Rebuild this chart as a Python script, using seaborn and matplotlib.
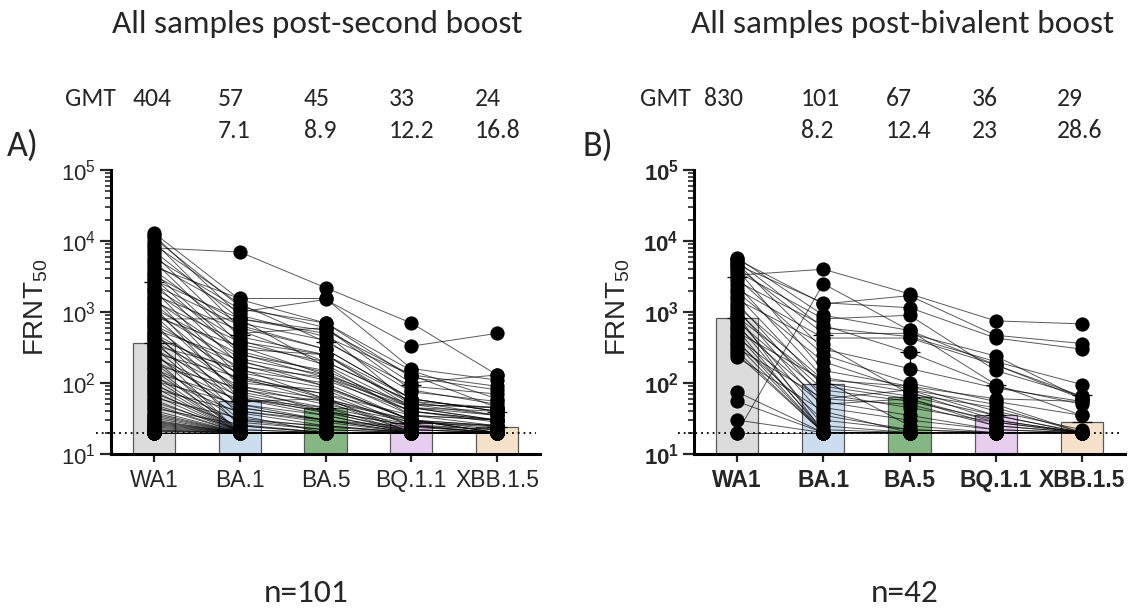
import numpy as np
import pandas as pd
import matplotlib
matplotlib.use("Agg")
import matplotlib.pyplot as plt
import seaborn as sns
from matplotlib.ticker import LogLocator, NullFormatter

W, H = 1128, 611

# ── categories / colours ────────────────────────────────────────────────────
variants = ["WA1", "BA.1", "BA.5", "BQ.1.1", "XBB.1.5"]
bar_colors = ["#dcdcdc", "#c6dcf6", "#7dbf7d", "#eac8f6", "#fde2c4"]

# header numbers (GMT row, fold-drop row)
gmt_label_a = ["404", "57", "45", "33", "24"]
fold_label_a = ["", "7.1", "8.9", "12.2", "16.8"]
gmt_label_b = ["830", "101", "67", "36", "29"]
fold_label_b = ["", "8.2", "12.4", "23", "28.6"]

# bar heights (geometric mean) and upper geometric SD
gmt_bar_a = [365, 56, 44, 27, 24]
gsd_top_a = [2650, 480, 380, 95, 39]
gmt_bar_b = [820, 98, 64, 36, 28]
gsd_top_b = [3100, 480, 276, 94, 68]

# ── panel A: post-second boost, n=101 ───────────────────────────────────────
wa1_a = [13000, 12000, 11000, 9800, 8900, 8000, 7200, 6500, 5800, 5200,
         4700, 4300, 3900, 3600, 3300, 3000, 2800, 2600, 2400, 2200,
         2050, 1900, 1750, 1600, 1500, 1400, 1300, 1200, 1120, 1050,
         980, 920, 860, 800, 750, 700, 650, 610, 570, 530,
         500, 470, 440, 410, 385, 360, 340, 320, 300, 280,
         265, 250, 235, 220, 205, 190, 180, 170, 160, 150,
         140, 130, 122, 115, 108, 100, 94, 88, 82, 77,
         72, 67, 62, 58, 54, 50, 47, 44, 41, 38,
         36, 34, 32, 30, 29, 28, 27, 26, 25, 24,
         23, 22, 21.5, 21, 20.5, 20, 20, 20, 20, 20, 20]
ba1_a = [1500, 900, 1200, 600, 1300, 7000, 800, 450, 1100, 350,
         1000, 1550, 500, 280, 700, 260, 800, 180, 650, 400,
         120, 300, 550, 90, 220, 380, 150, 60, 250, 100,
         200, 70, 330, 800, 130, 45, 170, 80, 210, 35,
         110, 60, 140, 25, 90, 50, 160, 30, 75, 20,
         120, 40, 65, 20, 55, 28, 85, 20, 45, 22,
         60, 20, 38, 20, 50, 20, 30, 20, 40, 20,
         25, 20, 32, 20, 22, 20, 20, 26, 20, 20,
         20, 20, 20, 20, 20, 20, 20, 20, 20, 20,
         20, 20, 20, 20, 20, 20, 20, 20, 20, 20, 20]
ba5_a = [700, 450, 600, 300, 380, 2200, 500, 250, 700, 200,
         1500, 1550, 600, 140, 400, 120, 550, 90, 300, 180,
         70, 250, 200, 60, 130, 250, 100, 45, 150, 80,
         110, 40, 130, 170, 60, 30, 120, 55, 90, 20,
         70, 40, 85, 20, 50, 35, 60, 25, 45, 20,
         55, 30, 38, 20, 60, 22, 40, 20, 30, 20,
         35, 20, 25, 20, 30, 20, 22, 20, 28, 20,
         20, 20, 24, 20, 20, 20, 20, 20, 20, 20,
         20, 20, 20, 20, 20, 20, 20, 20, 20, 20,
         20, 20, 20, 20, 20, 20, 20, 20, 20, 20, 20]
bq_a = [150, 130, 100, 60, 90, 700, 50, 45, 120, 55,
        330, 160, 80, 40, 75, 35, 130, 30, 60, 45,
        25, 50, 55, 20, 40, 60, 30, 20, 45, 25,
        40, 20, 50, 35, 22, 20, 45, 20, 30, 20,
        35, 25, 30, 20, 28, 20, 30, 20, 26, 20,
        30, 20, 22, 20, 28, 20, 25, 20, 22, 20,
        20, 20, 20, 20, 24, 20, 20, 20, 20, 20,
        20, 20, 20, 20, 20, 20, 20, 20, 20, 20,
        20, 20, 20, 20, 20, 20, 20, 20, 20, 20,
        20, 20, 20, 20, 20, 20, 20, 20, 20, 20, 20]
xbb_a = [60, 45, 130, 40, 70, 130, 35, 30, 80, 45,
         500, 110, 50, 30, 55, 25, 90, 20, 40, 30,
         20, 45, 35, 20, 30, 40, 20, 20, 35, 22,
         28, 20, 45, 30, 20, 20, 40, 20, 25, 20,
         30, 20, 22, 20, 25, 20, 20, 20, 22, 20,
         25, 20, 20, 20, 24, 20, 20, 20, 20, 20,
         20, 20, 20, 20, 20, 20, 20, 20, 20, 20,
         20, 20, 20, 20, 20, 20, 20, 20, 20, 20,
         20, 20, 20, 20, 20, 20, 20, 20, 20, 20,
         20, 20, 20, 20, 20, 20, 20, 20, 20, 20, 20]

# ── panel B: post-bivalent boost, n=42 ──────────────────────────────────────
wa1_b = [5800, 5500, 5200, 4900, 4600, 4300, 4000, 3700, 3300, 3000,
         2700, 2400, 2100, 1900, 1700, 1500, 1350, 1200, 1100, 1000,
         920, 850, 800, 740, 680, 620, 570, 520, 480, 440,
         400, 370, 340, 310, 280, 255, 230, 75, 55, 30,
         20, 20]
ba1_b = [900, 1300, 600, 300, 1350, 500, 150, 800, 4000, 250,
         650, 120, 430, 200, 90, 350, 60, 110, 45, 80,
         20, 100, 35, 70, 25, 55, 20, 110, 22, 50,
         20, 30, 20, 60, 20, 20, 40, 20, 20, 20,
         2500, 20]
ba5_b = [550, 1700, 450, 160, 1150, 500, 90, 900, 1800, 100,
         270, 75, 430, 80, 60, 70, 50, 90, 30, 55,
         20, 65, 22, 45, 20, 35, 20, 25, 20, 60,
         20, 22, 20, 80, 20, 20, 20, 20, 20, 20,
         550, 20]
bq_b = [180, 470, 200, 85, 430, 240, 40, 150, 750, 55,
        90, 30, 180, 35, 28, 45, 25, 60, 22, 30,
        20, 35, 20, 28, 20, 22, 20, 20, 20, 25,
        20, 20, 20, 50, 20, 20, 20, 20, 20, 20,
        95, 20]
xbb_b = [60, 360, 95, 55, 300, 60, 22, 65, 680, 35,
         50, 20, 65, 20, 20, 20, 20, 55, 20, 20,
         20, 20, 20, 20, 20, 20, 20, 20, 20, 20,
         20, 20, 20, 20, 20, 20, 20, 20, 20, 20,
         35, 20]

panel_a = [wa1_a, ba1_a, ba5_a, bq_a, xbb_a]
panel_b = [wa1_b, ba1_b, ba5_b, bq_b, xbb_b]

sns.set_theme(style="ticks")
plt.rcParams.update({
    "font.family": ["Liberation Sans", "DejaVu Sans"],
    "mathtext.fontset": "custom",
    "mathtext.rm": "Liberation Sans",
    "mathtext.it": "Liberation Sans:italic",
    "mathtext.bf": "Liberation Sans:bold",
    "axes.spines.top": False,
    "axes.spines.right": False,
    "figure.facecolor": "white",
    "axes.facecolor": "white",
})
HEAD = ["Carlito", "Lato", "DejaVu Sans"]


def px(x, y):
    return x / W, 1 - y / H


def long_frame(cols):
    rows = []
    for pos, vals in enumerate(cols):
        for s, v in enumerate(vals):
            rows.append((s, pos, v))
    return pd.DataFrame(rows, columns=["sample", "pos", "frnt"])


def draw_panel(ax, cols, gmt_bar, gsd_top, bold):
    df = long_frame(cols)
    ax.set_yscale("log")
    sns.barplot(x=variants, y=gmt_bar, hue=variants, palette=bar_colors,
                legend=False, width=0.49, edgecolor="#5a5a5a", linewidth=0.9,
                ax=ax, zorder=1)
    ax.errorbar(range(5), gmt_bar, yerr=[[0] * 5, np.array(gsd_top) - np.array(gmt_bar)],
                fmt="none", ecolor="black", elinewidth=0.9, capsize=7, capthick=0.9,
                zorder=2)
    ax.plot([-0.68, 4.45], [20, 20], color="black", lw=1.3, ls=(0, (1, 2.2)),
            clip_on=False, zorder=2.5)
    sns.lineplot(data=df, x="pos", y="frnt", units="sample", estimator=None,
                 color="black", lw=0.7, alpha=0.65, ax=ax, zorder=3)
    sns.scatterplot(data=df, x="pos", y="frnt", color="black", s=105,
                    edgecolor="black", linewidth=0, ax=ax, zorder=5, clip_on=False)

    ax.set_xlim(-0.5, 4.5)
    ax.set_ylim(10, 1e5)
    ax.set_xlabel("")
    ax.set_ylabel("")
    wt = "bold" if bold else "normal"
    ax.set_xticks(range(5))
    ax.set_xticklabels(variants, fontsize=16.5, fontweight=wt)
    ax.set_yticks([10, 1e2, 1e3, 1e4, 1e5])
    if bold:
        labs = [r"$\mathbf{10^{%d}}$" % k for k in range(1, 6)]
    else:
        labs = [r"$\mathregular{10^{%d}}$" % k for k in range(1, 6)]
    ax.set_yticklabels(labs, fontsize=16)
    ax.yaxis.set_minor_locator(LogLocator(base=10, subs=np.arange(2, 10)))
    ax.yaxis.set_minor_formatter(NullFormatter())
    ax.tick_params(axis="y", which="major", length=8, width=1.6, pad=3)
    ax.tick_params(axis="y", which="minor", length=4, width=1.2)
    ax.tick_params(axis="x", which="major", length=6, width=1.6, pad=5)
    for sp in ("left", "bottom"):
        ax.spines[sp].set_linewidth(2.2)
        ax.spines[sp].set_color("black")


fig = plt.figure(figsize=(W / 100, H / 100), dpi=100)
ax_a = fig.add_axes([111 / W, 1 - 454 / H, 429 / W, 284 / H])
ax_b = fig.add_axes([694 / W, 1 - 454 / H, 431 / W, 284 / H])
draw_panel(ax_a, panel_a, gmt_bar_a, gsd_top_a, bold=False)
draw_panel(ax_b, panel_b, gmt_bar_b, gsd_top_b, bold=True)

# ── header texts ────────────────────────────────────────────────────────────
fig.text(*px(317, 24), "All samples post-second boost", family=HEAD, fontsize=24,
         ha="center", va="center")
fig.text(*px(903, 24), "All samples post-bivalent boost", family=HEAD, fontsize=24,
         ha="center", va="center")

xa = [133, 218, 304, 389, 475]
xb = [704, 801, 886, 972, 1057]
fig.text(*px(65, 99), "GMT", family=HEAD, fontsize=18.5, va="center")
fig.text(*px(640, 99), "GMT", family=HEAD, fontsize=18.5, va="center")
for x, g, f in zip(xa, gmt_label_a, fold_label_a):
    fig.text(*px(x, 99), g, family=HEAD, fontsize=18.5, va="center")
    fig.text(*px(x, 130), f, family=HEAD, fontsize=18.5, va="center")
for x, g, f in zip(xb, gmt_label_b, fold_label_b):
    fig.text(*px(x, 99), g, family=HEAD, fontsize=18.5, va="center")
    fig.text(*px(x, 130), f, family=HEAD, fontsize=18.5, va="center")

fig.text(*px(23, 146), "A)", family=HEAD, fontsize=26, ha="center", va="center")
fig.text(*px(598, 146), "B)", family=HEAD, fontsize=26, ha="center", va="center")

fig.text(*px(36, 307), r"FRNT$_{50}$", fontsize=20, rotation=90, ha="center", va="center")
fig.text(*px(618, 307), r"FRNT$_{50}$", fontsize=20, rotation=90, ha="center", va="center")

fig.text(*px(306, 593), "n=101", family=HEAD, fontsize=24, ha="center", va="center")
fig.text(*px(905, 593), "n=42", family=HEAD, fontsize=24, ha="center", va="center")

fig.savefig("out.png", dpi=100, facecolor="white")
plt.close(fig)
